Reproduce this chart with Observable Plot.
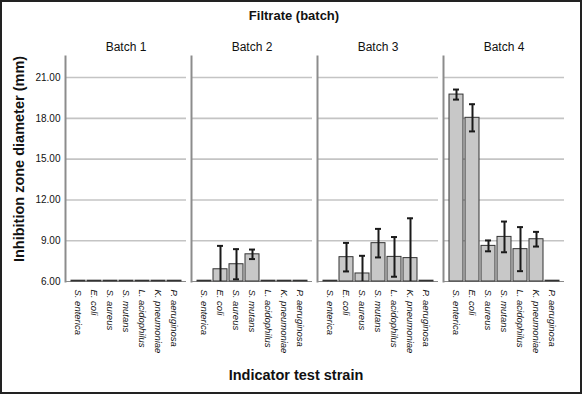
<!DOCTYPE html>
<html>
<head>
<meta charset="utf-8">
<script src="https://cdn.jsdelivr.net/npm/d3@7"></script>
<script src="https://cdn.jsdelivr.net/npm/@observablehq/plot@0.6"></script>
<style>
  html, body { margin: 0; padding: 0; background: #fff; }
  #wrap { width: 582px; height: 394px; box-sizing: border-box; border: 2px solid #222; background: #fff;
          font-family: "Liberation Sans", Arial, sans-serif; color: #111; overflow: hidden; }
  #title { height: 28px; line-height: 28px; text-align: center; font-weight: bold; font-size: 13px; padding-left: 6px; box-sizing: border-box; }
  #caption { height: 34px; line-height: 34px; text-align: center; font-weight: bold; font-size: 14.5px; padding-left: 10px; box-sizing: border-box; }
  svg { display: block; }
</style>
</head>
<body>
<div id="wrap">
  <div id="title">Filtrate (batch)</div>
  <div id="chart"></div>
  <div id="caption">Indicator test strain</div>
</div>
<script>
const strains = ["S. enterica", "E. coli", "S. aureus", "S. mutans", "L. acidophilus", "K. pneumoniae", "P. aeruginosa"];
const batches = ["Batch 1", "Batch 2", "Batch 3", "Batch 4"];
const yTicks = [6, 9, 12, 15, 18, 21];
const yLabel = "Inhibition zone diameter (mm)";

// mean inhibition zone (mm) per strain, one array per batch
const batch1Mean = [6.06, 6.06, 6.06, 6.06, 6.06, 6.06, 6.06];
const batch2Mean = [6.06, 6.9, 7.27, 8.0, 6.06, 6.06, 6.06];
const batch3Mean = [6.06, 7.79, 6.59, 8.82, 7.81, 7.72, 6.06];
const batch4Mean = [19.75, 18.04, 8.62, 9.28, 8.38, 9.11, 6.06];
// error (half-width of error bar, mm)
const batch1Err = [0, 0, 0, 0, 0, 0, 0];
const batch2Err = [0, 1.72, 1.11, 0.35, 0, 0, 0];
const batch3Err = [0, 1.05, 1.3, 1.05, 1.46, 2.93, 0];
const batch4Err = [0.37, 1.0, 0.4, 1.13, 1.62, 0.54, 0];

const means = [batch1Mean, batch2Mean, batch3Mean, batch4Mean];
const errs = [batch1Err, batch2Err, batch3Err, batch4Err];
const data = [];
batches.forEach((b, i) => strains.forEach((s, j) => {
  const m = means[i][j], e = errs[i][j];
  data.push({batch: b, strain: s, mean: m, err: e, lo: Math.max(6, m - e), hi: m + e});
}));
const errData = data.filter(d => d.err > 0);

const chart = Plot.plot({
  width: 578,
  height: 328,
  marginTop: 26,
  marginBottom: 77,
  marginLeft: 61,
  marginRight: 15,
  style: {fontFamily: "'Liberation Sans', Arial, sans-serif", color: "#111", background: "#fff"},
  fx: {domain: batches, paddingInner: 0.04, paddingOuter: 0},
  x: {domain: strains, paddingInner: 0.14, paddingOuter: 0.33},
  y: {domain: [6, 22.55]},
  marks: [
    Plot.ruleY(yTicks.filter(t => t > 6), {stroke: "#c4c4c4", strokeWidth: 1.6}),
    Plot.ruleY([6], {stroke: "#8a8a8a", strokeWidth: 1}),
    Plot.frame({anchor: "left", stroke: "#8c8c8c", strokeWidth: 2}),
    Plot.rectY(data, {fx: "batch", x: "strain", y1: 6, y2: "mean", fill: "#c8c8c8", stroke: "#333", strokeWidth: 1}),
    Plot.ruleX(errData, {fx: "batch", x: "strain", y1: "lo", y2: "hi", stroke: "#1a1a1a", strokeWidth: 2}),
    Plot.tickY(errData, {fx: "batch", x: "strain", y: "hi", stroke: "#1a1a1a", strokeWidth: 2, inset: 4}),
    Plot.tickY(errData.filter(d => d.mean - d.err >= 6), {fx: "batch", x: "strain", y: "lo", stroke: "#1a1a1a", strokeWidth: 2, inset: 4}),
    Plot.axisFx({anchor: "top", tickSize: 0, tickPadding: 6, fontSize: 12, label: null}),
    Plot.axisX({tickRotate: 90, tickSize: 0, tickPadding: 8, fontSize: 9.5, fontStyle: "italic", label: null, fill: "#111"}),
    Plot.axisY({ticks: yTicks, tickFormat: d => d.toFixed(2), tickSize: 0, tickPadding: 5, fontSize: 10, label: null}),
    Plot.text([yLabel], {fx: () => batches[0], frameAnchor: "left", textAnchor: "middle", lineAnchor: "middle", rotate: -90, dx: -46, dy: -10, fontSize: 14.5, fontWeight: "bold", fill: "#111"})
  ]
});
document.getElementById("chart").appendChild(chart);
</script>
</body>
</html>
